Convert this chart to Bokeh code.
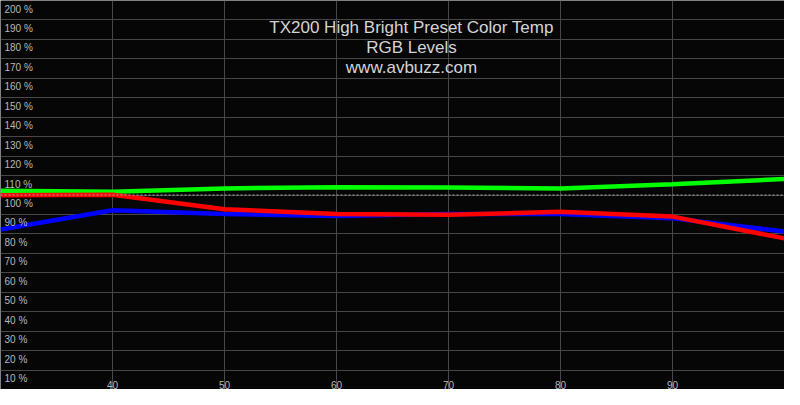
from bokeh.plotting import figure
from bokeh.models import Span, Label, Grid, FixedTicker, Range1d
from bokeh.core.properties import value
from bokeh.embed import file_html
from bokeh.resources import INLINE

# ---- data ----
levels = [30, 40, 50, 60, 70, 80, 90, 100]
red = [99.9, 100.1, 92.7, 90.2, 89.8, 91.4, 88.9, 77.7]
green = [102.2, 101.7, 103.4, 104.0, 103.9, 103.4, 105.5, 108.2]
blue = [82.3, 92.2, 90.2, 89.2, 90.2, 90.2, 88.1, 81.2]

x_ticks = [40, 50, 60, 70, 80, 90]
x_tick_labels = ["40", "50", "60", "70", "80", "90"]
y_ticks = [10, 20, 30, 40, 50, 60, 70, 80, 90, 100, 110, 120, 130, 140, 150, 160, 170, 180, 190, 200]
y_tick_labels = [f"{t} %" for t in y_ticks]
ref_level = 100

title_lines = ["TX200 High Bright Preset Color Temp", "RGB Levels", "www.avbuzz.com"]

X_MIN, X_MAX = 30, 100
Y_MIN, Y_MAX = 0, 200

W, H = 784, 389
BG = "#060606"
GRID = "#484848"
LABEL = "#b8b8b8"
FONT = "Liberation Sans"

p = figure(width=W, height=H, output_backend="svg", toolbar_location=None,
           x_range=Range1d(X_MIN, X_MAX), y_range=Range1d(Y_MIN, Y_MAX),
           x_axis_location=None, y_axis_location=None,
           min_border=0, min_border_left=0, min_border_right=0,
           min_border_top=0, min_border_bottom=0)
p.background_fill_color = BG
p.border_fill_color = BG
p.outline_line_color = None
p.grid.visible = False

p.add_layout(Grid(dimension=0, ticker=FixedTicker(ticks=x_ticks),
                  grid_line_color=GRID, grid_line_width=1))
p.add_layout(Grid(dimension=1, ticker=FixedTicker(ticks=y_ticks),
                  grid_line_color=GRID, grid_line_width=1))

p.add_layout(Span(location=ref_level, dimension="width", line_color="#a8a8a8",
                  line_width=1, line_dash="2 2"))

p.line(levels, green, line_color="#00ff00", line_width=4.5)
p.line(levels, blue, line_color="#0000ff", line_width=4.5)
p.line(levels, red, line_color="#ff0000", line_width=4.5)

# y tick labels inside the plot
p.text(x=[X_MIN] * len(y_ticks), y=y_ticks, text=y_tick_labels,
       text_font=value(FONT), text_font_size="10px", text_color=LABEL,
       text_align="left", text_baseline="top", x_offset=4, y_offset=3)

# x tick labels inside the plot
p.text(x=x_ticks, y=[Y_MIN] * len(x_ticks), text=x_tick_labels,
       text_font=value(FONT), text_font_size="10px", text_color=LABEL,
       text_align="center", text_baseline="bottom", y_offset=-1)

# title lines
for i, t in enumerate(title_lines):
    p.add_layout(Label(x=411, y=H - 27 - 20 * i, x_units="screen", y_units="screen",
                       text=t, text_font=FONT, text_font_size="17px",
                       text_color="#d4d4d4", text_align="center",
                       text_baseline="alphabetic"))

open("out.html", "w").write(file_html(p, INLINE))
